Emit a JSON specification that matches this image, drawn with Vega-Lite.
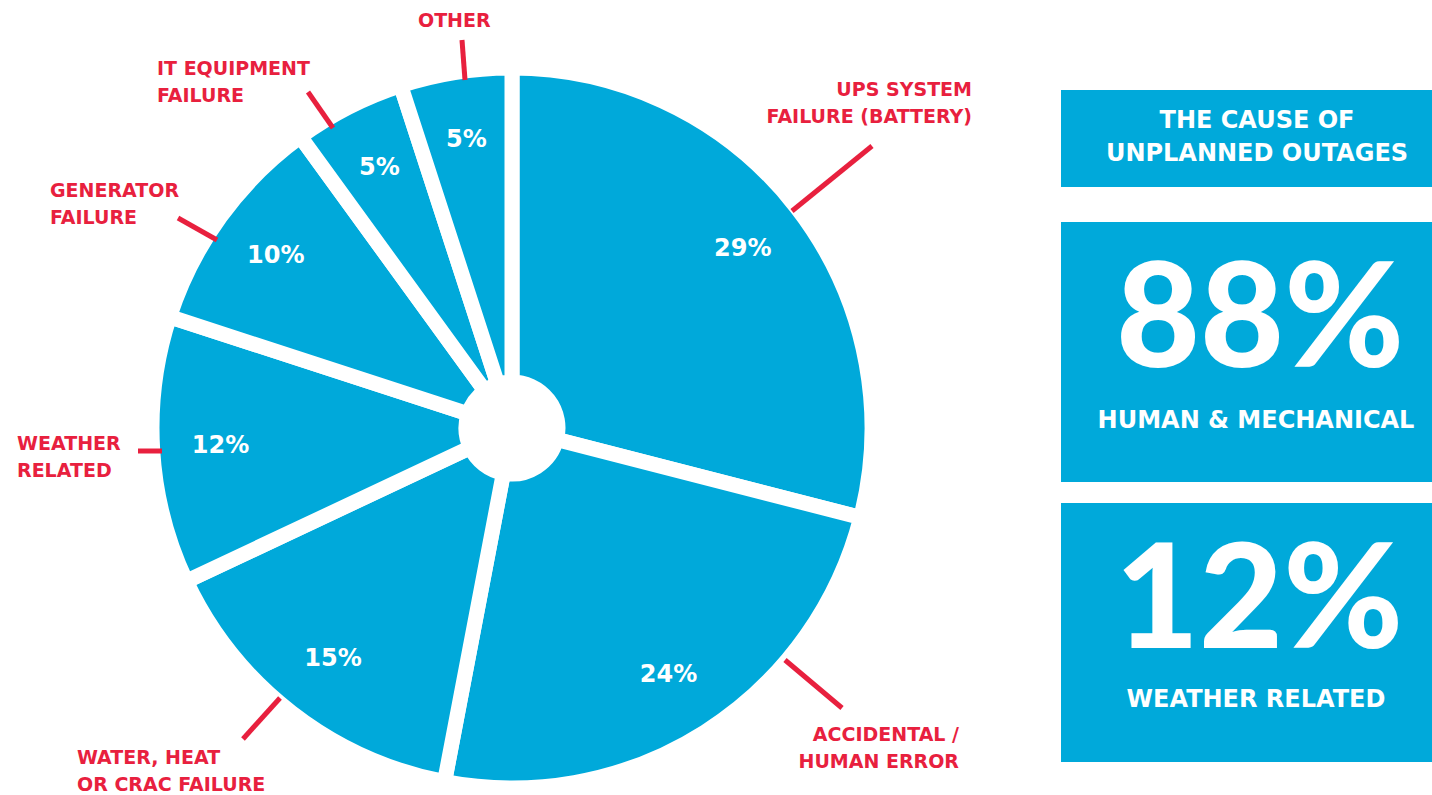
{
  "$schema": "https://vega.github.io/schema/vega-lite/v6.json",
  "width": 1432,
  "height": 795,
  "padding": 0,
  "autosize": "none",
  "background": "white",
  "config": {"view": {"stroke": null}, "font": "DejaVu Sans"},
  "datasets": {
    "pie": [
      {"idx": 1, "cause": "UPS System Failure (Battery)", "value": 0.29},
      {"idx": 2, "cause": "Accidental / Human Error", "value": 0.24},
      {"idx": 3, "cause": "Water, Heat or CRAC Failure", "value": 0.15},
      {"idx": 4, "cause": "Weather Related", "value": 0.12},
      {"idx": 5, "cause": "Generator Failure", "value": 0.10},
      {"idx": 6, "cause": "IT Equipment Failure", "value": 0.05},
      {"idx": 7, "cause": "Other", "value": 0.05}
    ],
    "boxes": [
      {"x0": 1061, "x1": 1440, "y0": 90, "y1": 187},
      {"x0": 1061, "x1": 1440, "y0": 222, "y1": 482},
      {"x0": 1061, "x1": 1440, "y0": 503, "y1": 762}
    ],
    "leaders": [
      {"cause": "UPS System Failure (Battery)", "x0": 792, "y0": 211, "x1": 872, "y1": 146},
      {"cause": "Accidental / Human Error", "x0": 785, "y0": 660, "x1": 842, "y1": 708},
      {"cause": "Water, Heat or CRAC Failure", "x0": 280, "y0": 698, "x1": 243, "y1": 739},
      {"cause": "Weather Related", "x0": 138, "y0": 451, "x1": 162, "y1": 451},
      {"cause": "Generator Failure", "x0": 178, "y0": 218, "x1": 217, "y1": 240},
      {"cause": "IT Equipment Failure", "x0": 308, "y0": 92, "x1": 333, "y1": 128},
      {"cause": "Other", "x0": 462, "y0": 40, "x1": 465, "y1": 80}
    ],
    "labelsRight": [
      {"x": 972, "y": 96, "text": "UPS SYSTEM\nFAILURE (BATTERY)"},
      {"x": 959, "y": 741, "text": "ACCIDENTAL /\nHUMAN ERROR"}
    ],
    "labelsLeft": [
      {"x": 77, "y": 764, "text": "WATER, HEAT\nOR CRAC FAILURE"},
      {"x": 17, "y": 450, "text": "WEATHER\nRELATED"},
      {"x": 50, "y": 197, "text": "GENERATOR\nFAILURE"},
      {"x": 157, "y": 75, "text": "IT EQUIPMENT\nFAILURE"},
      {"x": 418, "y": 27, "text": "OTHER"}
    ],
    "boxText": [
      {"x": 1257, "y": 128, "text": "THE CAUSE OF\nUNPLANNED OUTAGES"},
      {"x": 1256, "y": 428, "text": "HUMAN & MECHANICAL"},
      {"x": 1256, "y": 707, "text": "WEATHER RELATED"}
    ],
    "bigNumbers": [
      {"x": 1260, "y": 367, "text": "88%"},
      {"x": 1259, "y": 648, "text": "12%"}
    ]
  },
  "layer": [
    {
      "data": {"name": "boxes"},
      "mark": {"type": "rect", "fill": "#00A9DA"},
      "encoding": {
        "x": {"field": "x0", "type": "quantitative", "scale": {"domain": [0, 1432], "nice": false, "zero": false}, "axis": null},
        "x2": {"field": "x1"},
        "y": {"field": "y0", "type": "quantitative", "scale": {"domain": [0, 795], "nice": false, "zero": false, "reverse": true}, "axis": null},
        "y2": {"field": "y1"}
      }
    },
    {
      "data": {"name": "pie"},
      "mark": {"type": "arc", "radius": 360, "radius2": 46, "fill": "#00A9DA", "stroke": "white", "strokeWidth": 15},
      "encoding": {
        "theta": {"field": "value", "type": "quantitative", "stack": true},
        "order": {"field": "idx", "type": "quantitative"},
        "x": {"datum": 512, "type": "quantitative"},
        "y": {"datum": 428, "type": "quantitative"}
      }
    },
    {
      "data": {"name": "pie"},
      "mark": {"type": "text", "radius": 292, "fill": "white", "fontSize": 24, "fontWeight": "bold", "align": "center", "baseline": "middle"},
      "encoding": {
        "theta": {"field": "value", "type": "quantitative", "stack": true},
        "order": {"field": "idx", "type": "quantitative"},
        "x": {"datum": 512, "type": "quantitative"},
        "y": {"datum": 428, "type": "quantitative"},
        "text": {"field": "value", "type": "quantitative", "format": ".0%"}
      }
    },
    {
      "data": {"name": "leaders"},
      "mark": {"type": "rule", "stroke": "#E8203E", "strokeWidth": 5, "strokeCap": "butt"},
      "encoding": {
        "x": {"field": "x0", "type": "quantitative"},
        "y": {"field": "y0", "type": "quantitative"},
        "x2": {"field": "x1"},
        "y2": {"field": "y1"}
      }
    },
    {
      "data": {"name": "labelsRight"},
      "mark": {"type": "text", "align": "right", "baseline": "alphabetic", "fontSize": 19, "fontWeight": "bold", "fill": "#E8203E", "lineBreak": "\n", "lineHeight": 27},
      "encoding": {
        "x": {"field": "x", "type": "quantitative"},
        "y": {"field": "y", "type": "quantitative"},
        "text": {"field": "text", "type": "nominal"}
      }
    },
    {
      "data": {"name": "labelsLeft"},
      "mark": {"type": "text", "align": "left", "baseline": "alphabetic", "fontSize": 19, "fontWeight": "bold", "fill": "#E8203E", "lineBreak": "\n", "lineHeight": 27},
      "encoding": {
        "x": {"field": "x", "type": "quantitative"},
        "y": {"field": "y", "type": "quantitative"},
        "text": {"field": "text", "type": "nominal"}
      }
    },
    {
      "data": {"name": "boxText"},
      "mark": {"type": "text", "align": "center", "baseline": "alphabetic", "fontSize": 24, "fontWeight": "bold", "fill": "white", "lineBreak": "\n", "lineHeight": 33},
      "encoding": {
        "x": {"field": "x", "type": "quantitative"},
        "y": {"field": "y", "type": "quantitative"},
        "text": {"field": "text", "type": "nominal"}
      }
    },
    {
      "data": {"name": "bigNumbers"},
      "mark": {"type": "text", "align": "center", "baseline": "alphabetic", "font": "Lato", "fontSize": 145, "fontWeight": 900, "fill": "white"},
      "encoding": {
        "x": {"field": "x", "type": "quantitative"},
        "y": {"field": "y", "type": "quantitative"},
        "text": {"field": "text", "type": "nominal"}
      }
    }
  ]
}
